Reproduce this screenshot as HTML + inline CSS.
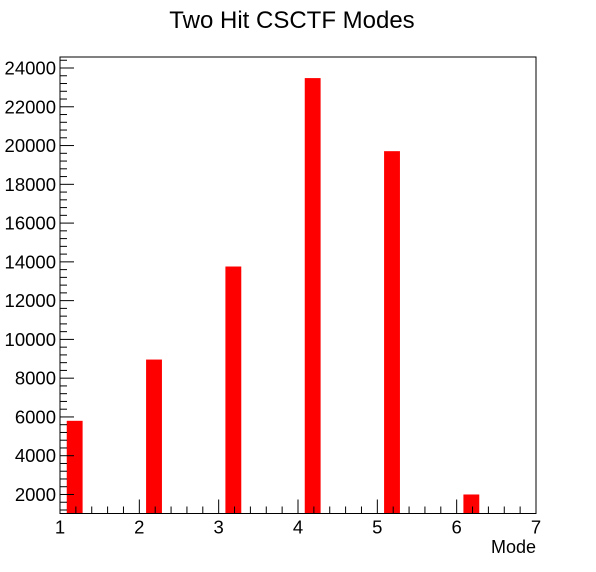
<!DOCTYPE html>
<html><head><meta charset="utf-8"><style>
body{margin:0;background:#fff;}
svg{display:block;font-family:"Liberation Sans",sans-serif;}
</style></head><body>
<svg id="chart" width="596" height="572">
<text x="292" y="28" text-anchor="middle" font-size="24">Two Hit CSCTF Modes</text>
<g id="bars"></g>
<g id="axes"></g>
<rect x="60" y="57" width="476" height="456.5" fill="none" stroke="#000" stroke-width="1"/>
<text x="536" y="553" text-anchor="end" font-size="18">Mode</text>
</svg>
<script>
const categories=[1,2,3,4,5,6];
const counts=[5800,8960,13760,23480,19710,2000];
const yTicks=[2000,4000,6000,8000,10000,12000,14000,16000,18000,20000,22000,24000];
const xTicks=[1,2,3,4,5,6,7];
const X0=60,X1=536,XMIN=1,XMAX=7;
const YB=513.5,YT=57,YMIN=1019,YMAX=24568;
function xs(v){return X0+(v-XMIN)/(XMAX-XMIN)*(X1-X0);}
function ys(v){return YB-(v-YMIN)/(YMAX-YMIN)*(YB-YT);}
const NS="http://www.w3.org/2000/svg";
const bars=document.getElementById('bars'),axes=document.getElementById('axes');
categories.forEach((c,i)=>{
 const r=document.createElementNS(NS,'rect');
 const x0=xs(c+0.085),x1=xs(c+0.285),y=ys(counts[i]);
 r.setAttribute('x',x0);r.setAttribute('width',x1-x0);
 r.setAttribute('y',y);r.setAttribute('height',YB-y);r.setAttribute('fill','#ff0000');
 
 
 bars.appendChild(r);
});
function line(x1,y1,x2,y2){const l=document.createElementNS(NS,'line');l.setAttribute('x1',x1);l.setAttribute('y1',y1);l.setAttribute('x2',x2);l.setAttribute('y2',y2);l.setAttribute('stroke','#000');l.setAttribute('stroke-width','1');
 
 
 axes.appendChild(l);}
function txt(x,y,s,anchor){const t=document.createElementNS(NS,'text');t.setAttribute('x',x);t.setAttribute('y',y);t.setAttribute('text-anchor',anchor);t.setAttribute('font-size','18.5');t.textContent=s;
 
 
 axes.appendChild(t);}
for(let v=1200;v<=24400;v+=400){const y=ys(v);if(y<YT||y>YB)continue;const major=v%2000===0;line(X0,y,X0+(major?14:7),y);}
yTicks.forEach(v=>txt(X0-4,ys(v)+6.5,String(v),'end'));
for(let k=0;k<=30;k++){const v=XMIN+k*0.2;const x=xs(v);const major=k%5===0;line(x,YB,x,YB-(major?14:7));}
xTicks.forEach(v=>txt(xs(v),YB+20,String(v),'middle'));
</script>
</body></html>
